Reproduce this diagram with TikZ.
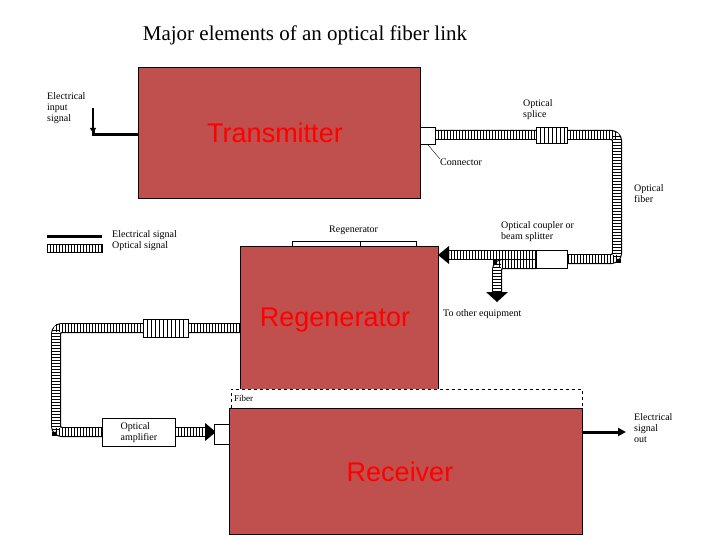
\documentclass[tikz,border=0pt]{standalone}
\usepackage{fontspec}
\setmainfont{Liberation Serif}
\newfontfamily\boxfont{Liberation Sans}
\usetikzlibrary{arrows.meta}
\definecolor{boxred}{RGB}{192,80,77}
\begin{document}
\begin{tikzpicture}[x=1pt,y=-1pt,
  blk/.style={draw=black,fill=boxred,line width=0.8pt,anchor=north west,inner sep=0pt},
  big/.style={font=\boxfont\fontsize{27}{27}\selectfont,text=red},
  lab/.style={font=\fontsize{10}{11}\selectfont,align=left,anchor=north west,inner sep=0pt},
  pipeo/.style={line width=10pt,black,rounded corners=6pt},
  pipei/.style={line width=7.6pt,white,rounded corners=5pt},
  pipeh/.style={line width=7.6pt,black,dash pattern=on 0.8pt off 2.2pt},
  small/.style={draw=black,fill=white,line width=0.8pt,anchor=north west,inner sep=0pt},
  elec/.style={line width=3pt,black}]
\useasboundingbox (0,0) rectangle (720,540);
\node[font=\fontsize{21}{24}\selectfont] (title) at (305,35) {Major elements of an optical fiber link};
% pipes (drawn first)
\coordinate (c1) at (435,135); \coordinate (c2) at (617,135);
\coordinate (c3) at (617,259); \coordinate (c4) at (567,259);
\foreach \s in {pipeo,pipei,pipeh}{\draw[\s] (c1) -- (c2) -- (c3) -- (c4);}
\coordinate (r1) at (240,328); \coordinate (r2) at (56,328);
\coordinate (r3) at (56,432); \coordinate (r4) at (102,432);
\foreach \s in {pipeo,pipei,pipeh}{\draw[\s] (r1) -- (r2) -- (r3) -- (r4);}
\coordinate (a1) at (175,432); \coordinate (a2) at (206,432);
\foreach \s in {pipeo,pipei,pipeh}{\draw[\s] (a1) -- (a2);}
\coordinate (b1) at (536,255); \coordinate (b2) at (449,255);
\foreach \s in {pipeo,pipei,pipeh}{\draw[\s] (b1) -- (b2);}
\coordinate (d1) at (536,264); \coordinate (d2) at (497,264); \coordinate (d3) at (497,292);
\foreach \s in {pipeo,pipei,pipeh}{\draw[\s] (d1) -- (d2) -- (d3);}
\fill (438,255) -- (449,246) -- (449,264) -- cycle;
\fill (497,302) -- (486,292) -- (508,292) -- cycle;
\fill (216,432) -- (205,423) -- (205,441) -- cycle;
% boxes
\node[blk,minimum width=282pt,minimum height=131pt] (tx) at (138,67) {};
\node[big] (txt) at (275,133) {Transmitter};
\node[small,minimum width=124pt,minimum height=6pt] (rtop) at (292,241) {};
\draw (360,241) -- (360,247);
\node[blk,minimum width=198pt,minimum height=144pt] (rg) at (240,246) {};
\node[big] (rgt) at (335,320) {Regenerator};
\node[draw=black,dashed,fill=white,line width=0.8pt,anchor=north west,inner sep=0pt,minimum width=351pt,minimum height=20pt] (fb) at (231,389) {};
\node[lab,font=\fontsize{9}{10}\selectfont] (fbl) at (234,395) {Fiber};
\node[blk,minimum width=353pt,minimum height=126pt] (rx) at (229,408) {};
\node[big] (rxt) at (400,472) {Receiver};
% small components
\node[small,minimum width=15pt,minimum height=17pt] (con) at (420,127) {};
\node[small,minimum width=31pt,minimum height=16pt] (sp1) at (536,127) {};
\foreach \x in {540,544,...,564}{\draw[line width=0.5pt] (\x,127) -- (\x,143);}
\node[small,minimum width=31pt,minimum height=18pt] (cpl) at (536,250) {};
\node[small,minimum width=45pt,minimum height=18pt] (sp2) at (143,319) {};
\foreach \x in {147,151,...,186}{\draw[line width=0.5pt] (\x,319) -- (\x,337);}
\node[small,minimum width=73pt,minimum height=28pt,align=left,font=\fontsize{10}{11}\selectfont] (amp) at (102,418) {Optical\\amplifier};
\node[small,minimum width=15pt,minimum height=20pt] (rcon) at (214,424) {};
% electrical
\coordinate (ein) at (93,108);
\draw[elec] (138,135) -- (93,135) -- (93,128);
\draw[-{Triangle[length=5pt,width=6pt]},line width=1.5pt] (ein) -- (93,133);
\coordinate (eout) at (626,432);
\draw[elec,-{Triangle[length=8pt,width=8pt]}] (rx.east |- eout) -- (eout);
% labels
\node[lab] (l1) at (47,92) {Electrical\\input\\signal};
\node[lab] (l2) at (523,99) {Optical\\splice};
\node[lab] (l3) at (440,159) {Connector};
\draw[line width=0.4pt] (l3.north west) -- (con.south);
\node[lab] (l4) at (634,184) {Optical\\fiber};
\node[lab] (l5) at (501,221) {Optical coupler or\\beam splitter};
\node[lab] (l6) at (329,226) {Regenerator};
\node[lab] (l7) at (443,309) {To other equipment};
\node[lab] (l8) at (634,413) {Electrical\\signal\\out};
% legend
\coordinate (g1) at (47,236); \coordinate (g2) at (102,236);
\draw[elec] (g1) -- (g2);
\coordinate (h1) at (47,248); \coordinate (h2) at (102,248);
\draw[line width=1pt] (47,244) rectangle (102,252);
\draw[pipeh,line width=7pt] (h1) -- (h2);
\node[lab] (l9) at (112,230) {Electrical signal\\Optical signal};
\end{tikzpicture}
\end{document}
